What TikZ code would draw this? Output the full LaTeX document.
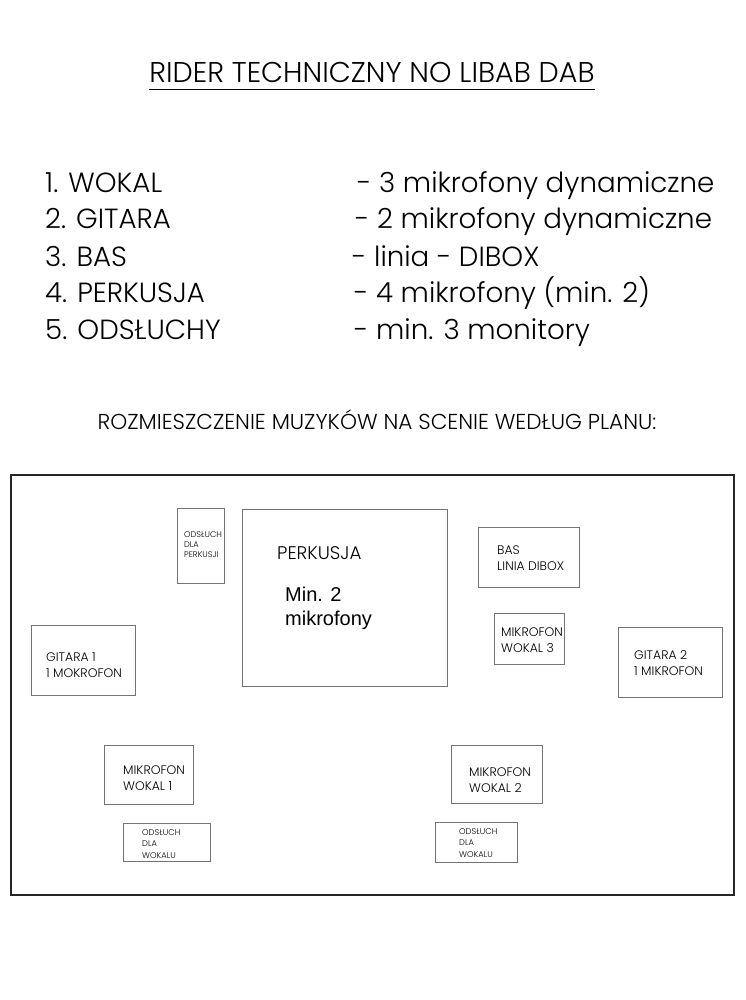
\documentclass[tikz,border=0pt]{standalone}
\usepackage{fontspec}
\setmainfont{Poppins Light}
\newfontfamily\arialfont{Liberation Sans}
\begin{document}
\begin{tikzpicture}[x=1pt,y=-1pt,
  box/.style={draw=black!55,line width=0.8pt},
  frame/.style={draw=black!85,line width=2pt},
  lbl/.style={anchor=base west,inner sep=0pt,align=left},
  small/.style={lbl,font=\fontsize{8.3}{11.5}\selectfont},
  mid/.style={lbl,font=\fontsize{12.4}{15.5}\selectfont},
  listl/.style={anchor=base west,inner sep=0pt,font=\fontsize{27.7}{30}\selectfont}]
\useasboundingbox[fill=white] (0,0) rectangle (745,1000);
% title
\node[anchor=base,inner sep=0pt,font=\fontsize{28.6}{32}\selectfont] (title) at (372,83) {RIDER TECHNICZNY NO LIBAB DAB};
\draw[line width=1pt] (title.west |- 0,90) coordinate (ul1) -- (title.east |- 0,90) coordinate (ul2);
% list
\node[listl] (l1) at (45,193) {1. WOKAL};
\node[listl] (l2) at (45,229) {2. GITARA};
\node[listl] (l3) at (45,266) {3. BAS};
\node[listl] (l4) at (45,302) {4. PERKUSJA};
\node[listl] (l5) at (45,339) {5. ODSŁUCHY};
\node[listl] (r1) at (357,193) {- 3 mikrofony dynamiczne};
\node[listl] (r2) at (355,229) {- 2 mikrofony dynamiczne};
\node[listl] (r3) at (352,266) {- linia - DIBOX};
\node[listl] (r4) at (354,302) {- 4 mikrofony (min. 2)};
\node[listl] (r5) at (354,339) {- min. 3 monitory};
% subtitle
\node[anchor=base,inner sep=0pt,font=\fontsize{21.6}{24}\selectfont] (sub) at (377,429) {ROZMIESZCZENIE MUZYKÓW NA SCENIE WEDŁUG PLANU:};
% stage frame
\draw[frame] (11,475) rectangle (734,895);
% boxes
\draw[box] (177,508) rectangle (224,583);
\node[lbl,font=\fontsize{8.2}{10}\selectfont] (odp) at (184,557) {ODSŁUCH\\DLA\\PERKUSJI};
\draw[box] (242,509) rectangle (447,686);
\node[lbl,font=\fontsize{18.3}{22}\selectfont] (perk) at (277,559) {PERKUSJA};
\node[lbl,font=\arialfont\fontsize{20}{24}\selectfont] (minmik) at (285,625) {Min. 2\\mikrofony};
\draw[box] (478,527) rectangle (579,587);
\node[mid] (bas) at (497,570) {BAS\\LINIA DIBOX};
\draw[box] (494,613) rectangle (564,664);
\node[mid] (mw3) at (501,652) {MIKROFON\\WOKAL 3};
\draw[box] (618,627) rectangle (722,697);
\node[mid] (g2) at (634,675) {GITARA 2\\ 1 MIKROFON};
\draw[box] (31,625) rectangle (135,695);
\node[mid] (g1) at (46,677) {GITARA 1\\1 MOKROFON};
\draw[box] (104,745) rectangle (193,804);
\node[mid] (mw1) at (123,790) {MIKROFON\\WOKAL 1};
\draw[box] (451,745) rectangle (542,803);
\node[mid] (mw2) at (469,792) {MIKROFON\\WOKAL 2};
\draw[box] (123,823) rectangle (210,861);
\node[small] (odw1) at (142,858) {ODSŁUCH\\DLA\\WOKALU};
\draw[box] (435,822) rectangle (517,862);
\node[small] (odw2) at (459,857) {ODSŁUCH\\DLA\\WOKALU};
\end{tikzpicture}
\end{document}
